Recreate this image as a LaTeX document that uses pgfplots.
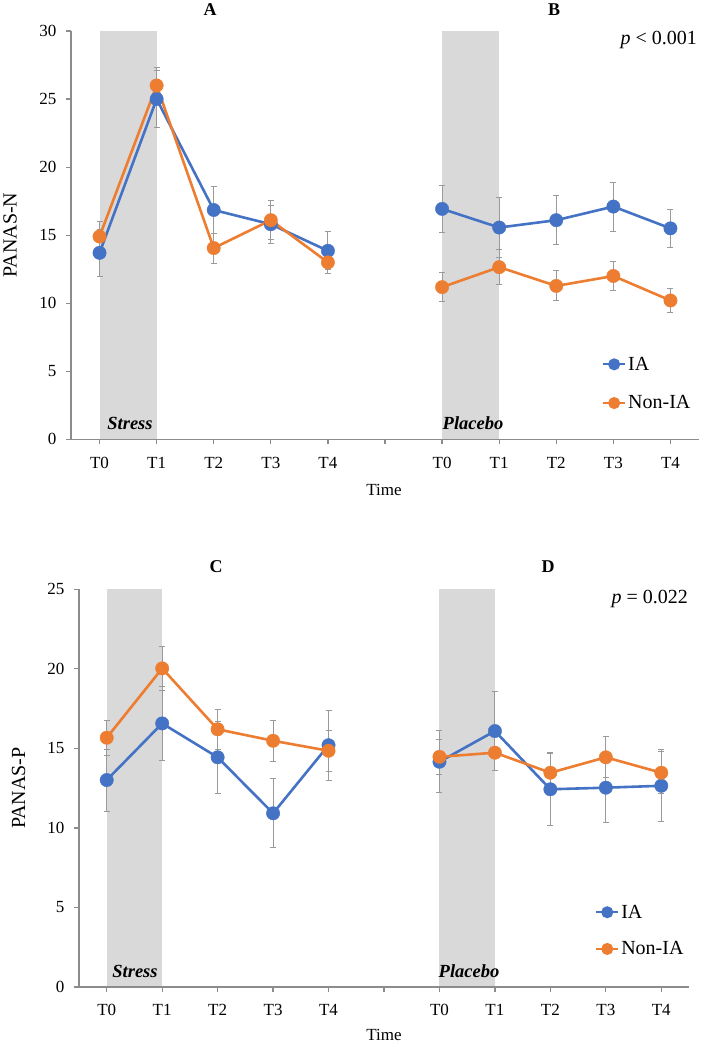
\documentclass[border=0pt]{standalone}
\usepackage{fontspec}
\setmainfont{Liberation Serif}
\usepackage{pgfplots}
\pgfplotsset{compat=1.18}
\definecolor{iablue}{HTML}{4472C4}
\definecolor{nonorange}{HTML}{ED7D31}
\definecolor{band}{HTML}{D9D9D9}
\definecolor{axgray}{HTML}{8C8C8C}
\definecolor{errgray}{HTML}{9A9A9A}

\pgfplotsset{
  panel/.style={
    scale only axis, anchor=south west,
    xmin=-0.5, xmax=10.5,
    axis x line=bottom, axis y line=left,
    axis line style={axgray, line width=1.2pt, -},
    xtick={0,...,10},
    xticklabels={T0,T1,T2,T3,T4,{},T0,T1,T2,T3,T4},
    tick style={axgray, line width=1.2pt},
    tick align=outside, major tick length=5pt,
    ticklabel style={font=\fontsize{17}{20}\selectfont, text=black},
    xticklabel style={yshift=-9pt},
    yticklabel style={xshift=-6pt},
    /pgf/number format/assume math mode=true,
    axis on top, clip=false,
    legend cell align=left,
    legend style={draw=none, fill=none, font=\fontsize{20}{24}\selectfont,
      anchor=north west, row sep=20pt, inner sep=0pt,
      nodes={inner sep=2pt}},
    legend image code/.code={\draw[mark repeat=2, mark phase=2, #1, line width=2pt, mark size=5pt]
      plot coordinates {(0pt,0pt) (11pt,0pt) (22pt,0pt)};},
  },
  ser/.style={forget plot, color=#1, line width=2.6pt, mark=*, mark size=6.7pt,
    mark options={solid, fill=#1, draw=#1, line width=0.4pt},
    error bars/y dir=both, error bars/y explicit,
    error bars/error bar style={errgray, line width=1pt},
    error bars/error mark options={rotate=90, mark size=3pt, errgray, line width=1pt}},
}

\begin{document}
\begin{tikzpicture}
\path[use as bounding box] (0pt,0pt) rectangle (705pt,-1047pt);

% ---------------- Top panel (A, B) ----------------
\begin{axis}[panel, at={(71pt,-439.3pt)}, width=628pt, height=408.3pt,
  ymin=0, ymax=30, ytick={0,5,...,30},
  legend style={at={(rel axis cs:0.8455,0.207)}}]
\fill[band] (axis cs:0,0) rectangle (axis cs:1,30);
\fill[band] (axis cs:6,0) rectangle (axis cs:7,30);
\addlegendimage{iablue, mark=*, mark options={fill=iablue, draw=iablue}}
\addlegendentry{IA}
\addlegendimage{nonorange, mark=*, mark options={fill=nonorange, draw=nonorange}}
\addlegendentry{Non-IA}
% A
\addplot[ser=iablue] coordinates {
  (0,13.7) +- (0,1.75) (1,25.0) +- (0,2.1) (2,16.85) +- (0,1.75) (3,15.8) +- (0,1.4) (4,13.85) +- (0,1.4)};
\addplot[ser=nonorange] coordinates {
  (0,14.9) +- (0,1.1) (1,26.0) +- (0,1.3) (2,14.05) +- (0,1.1) (3,16.1) +- (0,1.45) (4,13.0) +- (0,0.8)};
% B
\addplot[ser=iablue] coordinates {
  (6,16.93) +- (0,1.75) (7,15.56) +- (0,2.2) (8,16.1) +- (0,1.8) (9,17.1) +- (0,1.8) (10,15.5) +- (0,1.4)};
\addplot[ser=nonorange] coordinates {
  (6,11.18) +- (0,1.05) (7,12.65) +- (0,1.3) (8,11.27) +- (0,1.1) (9,12.0) +- (0,1.06) (10,10.2) +- (0,0.85)};
\end{axis}

% ---------------- Bottom panel (C, D) ----------------
\begin{axis}[panel, at={(79pt,-987pt)}, width=610pt, height=397.7pt,
  ymin=0, ymax=25, ytick={0,5,...,25},
  legend style={at={(rel axis cs:0.846,0.212)}, row sep=18pt}]
\fill[band] (axis cs:0,0) rectangle (axis cs:1,25);
\fill[band] (axis cs:6,0) rectangle (axis cs:7,25);
\addlegendimage{iablue, mark=*, mark options={fill=iablue, draw=iablue}}
\addlegendentry{IA}
\addlegendimage{nonorange, mark=*, mark options={fill=nonorange, draw=nonorange}}
\addlegendentry{Non-IA}
% C
\addplot[ser=iablue] coordinates {
  (0,13.01) +- (0,1.95) (1,16.57) +- (0,2.35) (2,14.44) +- (0,2.27) (3,10.92) +- (0,2.17) (4,15.2) +- (0,2.2)};
\addplot[ser=nonorange] coordinates {
  (0,15.67) +- (0,1.1) (1,20.03) +- (0,1.4) (2,16.2) +- (0,1.25) (3,15.48) +- (0,1.28) (4,14.85) +- (0,1.3)};
% D
\addplot[ser=iablue] coordinates {
  (6,14.16) +- (0,1.95) (7,16.09) +- (0,2.5) (8,12.43) +- (0,2.25) (9,12.53) +- (0,2.2) (10,12.65) +- (0,2.26)};
\addplot[ser=nonorange] coordinates {
  (6,14.47) +- (0,1.12) (7,14.73) +- (0,1.1) (8,13.47) +- (0,1.25) (9,14.44) +- (0,1.3) (10,13.47) +- (0,1.32)};
\end{axis}

% ---------------- Text ----------------
\begin{scope}[every node/.style={inner sep=0pt}]
\node[font=\fontsize{18}{21}\selectfont\bfseries] at (210pt,-10pt) {A};
\node[font=\fontsize{18}{21}\selectfont\bfseries] at (554pt,-10pt) {B};
\node[font=\fontsize{18}{21}\selectfont\bfseries] at (216pt,-567pt) {C};
\node[font=\fontsize{18}{21}\selectfont\bfseries] at (548pt,-567pt) {D};
\node[font=\fontsize{20}{24}\selectfont, anchor=east] at (697pt,-40pt) {\textit{p} < 0.001};
\node[font=\fontsize{20}{24}\selectfont, anchor=east] at (688pt,-599pt) {\textit{p} = 0.022};
\node[font=\fontsize{18.5}{22}\selectfont\bfseries\itshape] at (130pt,-423pt) {Stress};
\node[font=\fontsize{18.5}{22}\selectfont\bfseries\itshape] at (473pt,-423pt) {Placebo};
\node[font=\fontsize{18.5}{22}\selectfont\bfseries\itshape] at (135pt,-971pt) {Stress};
\node[font=\fontsize{18.5}{22}\selectfont\bfseries\itshape] at (469pt,-971pt) {Placebo};
\node[font=\fontsize{20}{24}\selectfont, rotate=90] at (10pt,-235pt) {PANAS-N};
\node[font=\fontsize{20}{24}\selectfont, rotate=90] at (18.5pt,-788pt) {PANAS-P};
\node[font=\fontsize{17}{20}\selectfont] at (384pt,-490pt) {Time};
\node[font=\fontsize{17}{20}\selectfont] at (384pt,-1035pt) {Time};
\end{scope}
\end{tikzpicture}
\end{document}
